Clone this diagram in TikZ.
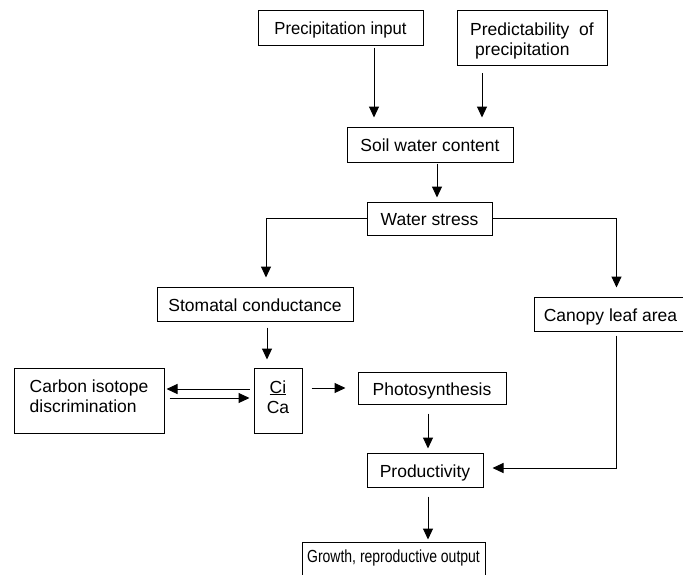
\documentclass[tikz,border=0pt]{standalone}
\usepackage{fontspec}
\usepackage{graphicx}
\setmainfont{Liberation Sans}
\usetikzlibrary{arrows.meta}
\begin{document}
\begin{tikzpicture}[x=1pt,y=-1pt,
  box/.style={draw,line width=1pt,inner sep=0pt,
    font=\fontsize{17.5}{20}\selectfont},
  oneline/.style={box,text height=14pt,text depth=0pt},
  arr/.style={draw,line width=1pt,-{Triangle[length=11pt,width=10pt]}}]
  \clip (0,0) rectangle (683,574);

  % boxes
  \node[oneline,minimum width=165,minimum height=35] (pin) at (340.5,27.5)
    {\scalebox{0.95}[1]{Precipitation input}};
  \node[box,minimum width=150,minimum height=55,align=left] (pred) at (532,38)
    {\rule{0pt}{18pt}Predictability\ \ of\\\hspace{5pt}precipitation\rule[-4pt]{0pt}{4pt}};
  \node[oneline,minimum width=166,minimum height=35] (soil) at (430,144.5) {Soil water content};
  \node[oneline,minimum width=125,minimum height=33] (ws) at (429.5,218.5) {Water stress};
  \node[oneline,minimum width=196,minimum height=34] (stom) at (255,304) {Stomatal conductance};
  \node[oneline,minimum width=153,minimum height=34] (canopy) at (610.5,314) {Canopy leaf area};
  \node[box,minimum width=48,minimum height=65,align=center] (ci) at (278,400.5)
    {\rule{0pt}{13pt}\underline{Ci}\\Ca\rule[-8pt]{0pt}{8pt}};
  \node[box,minimum width=150,minimum height=65,align=left] (cid) at (89,400.5)
    {\rule{0pt}{13pt}Carbon isotope\\discrimination\rule[-10pt]{0pt}{10pt}};
  \node[oneline,minimum width=148,minimum height=32] (photo) at (432,388) {Photosynthesis};
  \node[oneline,minimum width=116,minimum height=34] (prod) at (425,470) {Productivity};
  \node[box,text height=7pt,text depth=7pt,minimum width=183,minimum height=40] (grow) at (393.5,562)
    {\scalebox{0.8}[1]{Growth, reproductive output}};

  % connectors
  \draw[arr,shorten <=2pt,shorten >=9pt] ([xshift=33.5]pin.south) -- ([xshift=-56]soil.north);
  \draw[arr,shorten <=7pt,shorten >=9pt] ([xshift=-50]pred.south) -- ([xshift=52]soil.north);
  \draw[arr,shorten <=1pt,shorten >=4pt] ([xshift=7]soil.south) -- ([xshift=7.5]ws.north);
  \draw[arr,shorten >=9pt] (ws.west) -| ([xshift=11]stom.north);
  \draw[arr,shorten >=9pt] (ws.east) -| ([xshift=6]canopy.north);
  \draw[arr,shorten <=6pt,shorten >=8pt] ([xshift=12]stom.south) -- ([xshift=-11]ci.north);
  \draw[arr,shorten <=4pt,shorten >=2pt] ([yshift=11.5]ci.west) -- ([yshift=11.5]cid.east);
  \draw[arr,shorten <=5pt,shorten >=4pt] ([yshift=2.5]cid.east) -- ([yshift=2.5]ci.west);
  \draw[arr,shorten <=9pt,shorten >=12pt] ([yshift=12.5]ci.east) -- (photo.west);
  \draw[arr,shorten <=9pt,shorten >=4pt] ([xshift=-4]photo.south) -- ([xshift=3]prod.north);
  \draw[arr,shorten <=4pt,shorten >=9pt] ([xshift=5.5]canopy.south) |- ([yshift=2]prod.east);
  \draw[arr,shorten <=9pt,shorten >=2pt] ([xshift=3]prod.south) -- ([xshift=34.5]grow.north);
\end{tikzpicture}
\end{document}
